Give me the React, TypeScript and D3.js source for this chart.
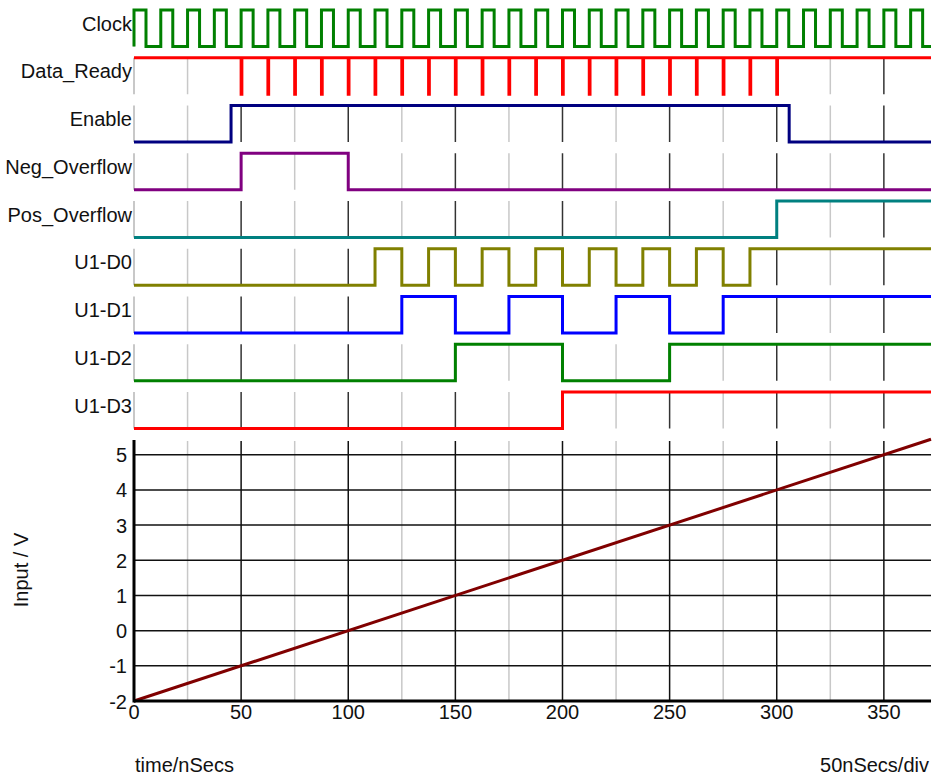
import React from "react";
import * as d3 from "d3";

// ---- data ----
const signalNames = ["Clock", "Data_Ready", "Enable", "Neg_Overflow", "Pos_Overflow", "U1-D0", "U1-D1", "U1-D2", "U1-D3"];
const signalColors = ["#008000", "#ff0000", "#000080", "#800080", "#008080", "#808000", "#0000ff", "#008000", "#ff0000"];

const clockRise = [0, 12.5, 25, 37.5, 50, 62.5, 75, 87.5, 100, 112.5, 125, 137.5, 150, 162.5, 175, 187.5, 200, 212.5, 225, 237.5, 250, 262.5, 275, 287.5, 300, 312.5, 325, 337.5, 350, 362.5];
const clockFall = [5.6, 18.1, 30.6, 43.1, 55.6, 68.1, 80.6, 93.1, 105.6, 118.1, 130.6, 143.1, 155.6, 168.1, 180.6, 193.1, 205.6, 218.1, 230.6, 243.1, 255.6, 268.1, 280.6, 293.1, 305.6, 318.1, 330.6, 343.1, 355.6, 368.1];
const dataReadyPulses = [50, 62.5, 75, 87.5, 100, 112.5, 125, 137.5, 150, 162.5, 175, 187.5, 200, 212.5, 225, 237.5, 250, 262.5, 275, 287.5, 300];
const enableEdges = [45.3, 305.8];
const negOverflowEdges = [50, 100];
const posOverflowEdges = [300];
const d0Edges = [112.5, 125, 137.5, 150, 162.5, 175, 187.5, 200, 212.5, 225, 237.5, 250, 262.5, 275, 287.5];
const d1Edges = [125, 150, 175, 200, 225, 250, 275];
const d2Edges = [150, 200, 250];
const d3Edges = [200];

const inputTimes = [0, 372];
const inputVolts = [-2, 5.44];

const xTicks = [0, 50, 100, 150, 200, 250, 300, 350];
const xMinorTicks = [25, 75, 125, 175, 225, 275, 325];
const yTicks = [-2, -1, 0, 1, 2, 3, 4, 5];

const T_MAX = 372;

type Step = { t: number; v: number };

function toggles(initial: number, edges: number[]): Step[] {
  const out: Step[] = [{ t: 0, v: initial }];
  let v = initial;
  edges.forEach((e) => {
    v = 1 - v;
    out.push({ t: e, v });
  });
  out.push({ t: T_MAX, v });
  return out;
}

export default function App() {
  const W = 933, H = 782;
  const x = d3.scaleLinear().domain([0, T_MAX]).range([134, 931]);
  const rowTop0 = 10, rowPitch = 47.75, rowSpan = 36.5;

  const clockEdges: number[] = [];
  clockRise.forEach((r, i) => { clockEdges.push(r, clockFall[i]); });
  const drEdges: number[] = [];
  dataReadyPulses.forEach((p) => { drEdges.push(p, p + 0.35); });

  const steps: Step[][] = [
    toggles(0, clockEdges),
    toggles(1, drEdges),
    toggles(0, enableEdges),
    toggles(0, negOverflowEdges),
    toggles(0, posOverflowEdges),
    toggles(0, d0Edges),
    toggles(0, d1Edges),
    toggles(0, d2Edges),
    toggles(0, d3Edges),
  ];

  const y = d3.scaleLinear().domain([-2, 5.42]).range([701, 440]);
  const analogLine = d3.line<number>().x((_, i) => x(inputTimes[i])).y((v) => y(v));

  const font = "'Liberation Sans', Arial, sans-serif";

  return (
    <svg width={W} height={H} style={{ display: "block", position: "absolute", left: 0, top: 0, background: "#fff" }} fontFamily={font}>
      <rect x={0} y={0} width={W} height={H} fill="#fff" />
      {signalNames.map((name, i) => {
        const top = rowTop0 + i * rowPitch;
        const bot = top + rowSpan;
        const yl = d3.scaleLinear().domain([0, 1]).range([bot, top]);
        const line = d3.line<Step>().x((d) => x(d.t)).y((d) => yl(d.v)).curve(d3.curveStepAfter);
        return (
          <g key={name}>
            <line x1={x(0)} x2={x(0)} y1={top} y2={bot} stroke="#c8c8c8" strokeWidth={2} />
            {xMinorTicks.map((t) => (
              <line key={"m" + t} x1={x(t)} x2={x(t)} y1={top} y2={bot} stroke="#c8c8c8" strokeWidth={1.5} />
            ))}
            {xTicks.slice(1).map((t) => (
              <line key={"M" + t} x1={x(t)} x2={x(t)} y1={top} y2={bot} stroke="#333" strokeWidth={1.5} />
            ))}
            <path d={line(steps[i]) || ""} fill="none" stroke={signalColors[i]} strokeWidth={3} />
            <text x={132} y={top + 20.5} textAnchor="end" fontSize={20} fill="#111">{name}</text>
          </g>
        );
      })}

      {/* analog plot */}
      <g>
        {xMinorTicks.map((t) => (
          <line key={"am" + t} x1={x(t)} x2={x(t)} y1={441} y2={701} stroke="#c8c8c8" strokeWidth={1.5} />
        ))}
        {xTicks.slice(1).map((t) => (
          <line key={"aM" + t} x1={x(t)} x2={x(t)} y1={441} y2={701} stroke="#111" strokeWidth={1.5} />
        ))}
        {yTicks.slice(1).map((v) => (
          <line key={"h" + v} x1={x(0)} x2={931} y1={y(v)} y2={y(v)} stroke="#111" strokeWidth={1.5} />
        ))}
        <path d={analogLine(inputVolts) || ""} fill="none" stroke="#800000" strokeWidth={3} />
        <line x1={x(0)} x2={931} y1={701} y2={701} stroke="#000" strokeWidth={3} />
        <line x1={x(0)} x2={x(0)} y1={440} y2={702.5} stroke="#000" strokeWidth={3} />
        {yTicks.map((v) => (
          <text key={"yl" + v} x={127} y={y(v) + 7.5} textAnchor="end" fontSize={20} fill="#111">{v}</text>
        ))}
        {xTicks.map((t) => (
          <text key={"xl" + t} x={x(t)} y={719} textAnchor="middle" fontSize={20} fill="#111">{t}</text>
        ))}
        <text transform={`translate(28,570) rotate(-90)`} textAnchor="middle" fontSize={20} fill="#111">Input / V</text>
        <text x={135} y={772} fontSize={20} fill="#111">time/nSecs</text>
        <text x={929} y={772} textAnchor="end" fontSize={20} fill="#111">50nSecs/div</text>
      </g>
    </svg>
  );
}
